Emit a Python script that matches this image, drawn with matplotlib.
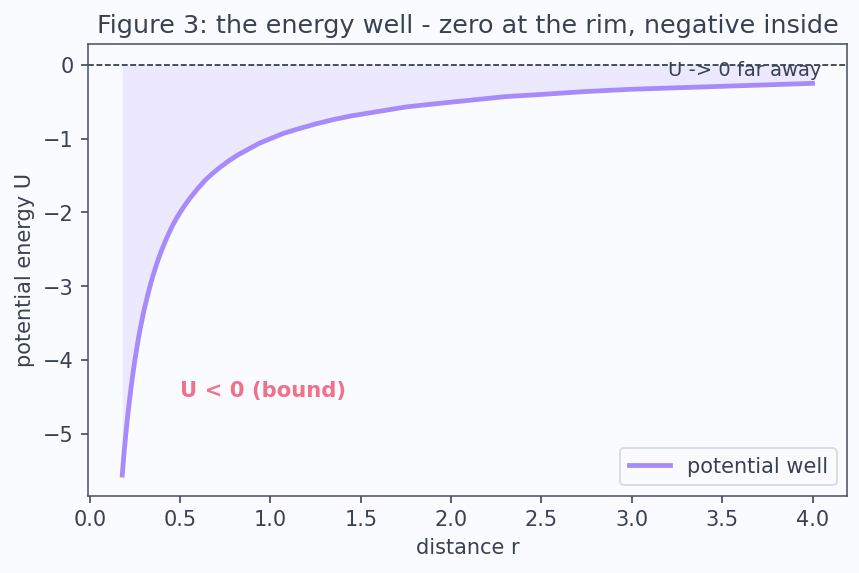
import matplotlib
matplotlib.use("Agg")
from matplotlib import pyplot as plt

# values
r = [0.18, 0.185, 0.19, 0.195, 0.20, 0.21, 0.22, 0.23, 0.24, 0.25, 0.26, 0.27,
     0.28, 0.29, 0.30, 0.32, 0.34, 0.36, 0.38, 0.40, 0.42, 0.44, 0.46, 0.48,
     0.50, 0.53, 0.56, 0.60, 0.64, 0.68, 0.72, 0.77, 0.82, 0.88, 0.94, 1.0,
     1.07, 1.15, 1.25, 1.35, 1.45, 1.6, 1.75, 1.9, 2.1, 2.3, 2.5, 2.75, 3.0,
     3.25, 3.5, 3.75, 4.0]
U = [-5.56, -5.41, -5.26, -5.13, -5.00, -4.76, -4.55, -4.35, -4.17, -4.00,
     -3.85, -3.70, -3.57, -3.45, -3.33, -3.13, -2.94, -2.78, -2.63, -2.50,
     -2.38, -2.27, -2.17, -2.08, -2.00, -1.89, -1.79, -1.67, -1.56, -1.47,
     -1.39, -1.30, -1.22, -1.14, -1.06, -1.00, -0.93, -0.87, -0.80, -0.74,
     -0.69, -0.63, -0.57, -0.53, -0.48, -0.43, -0.40, -0.36, -0.33, -0.31,
     -0.29, -0.27, -0.25]

txt = '#374151'
bg = '#fafbff'
purple = '#a78bfa'

plt.rcParams['font.family'] = 'DejaVu Sans'
fig, ax = plt.subplots(figsize=(6, 4), dpi=143.33)
fig.patch.set_facecolor(bg)
ax.set_facecolor(bg)

ax.fill_between(r, U, 0, color='#c4b5fd', alpha=0.25, linewidth=0)
ax.plot(r, U, color=purple, lw=2.4, label='potential well')
ax.axhline(0, color='#1f2937', lw=0.8, ls='--')

ax.text(3.2, -0.2, 'U -> 0 far away', ha='left', va='bottom', fontsize=9.8, color=txt)
ax.text(0.5, -4.5, 'U < 0 (bound)', fontsize=10.6, fontweight='bold', color='#f0718a')

ax.set_title('Figure 3: the energy well - zero at the rim, negative inside', fontsize=12.8, color=txt)
ax.set_xlabel('distance r', fontsize=10.5, color=txt)
ax.set_ylabel('potential energy U', fontsize=10.5, color=txt)
ax.tick_params(colors=txt, labelsize=10.5)
for s in ax.spines.values():
    s.set_color('#4b5563')

leg = ax.legend(loc='lower right', fontsize=10.5, labelcolor=txt, facecolor=bg)
leg.get_frame().set_edgecolor('#d1d5db')

fig.subplots_adjust(left=0.102, right=0.985, top=0.922, bottom=0.135)
fig.savefig('out.png', dpi=143.33, facecolor=bg)
